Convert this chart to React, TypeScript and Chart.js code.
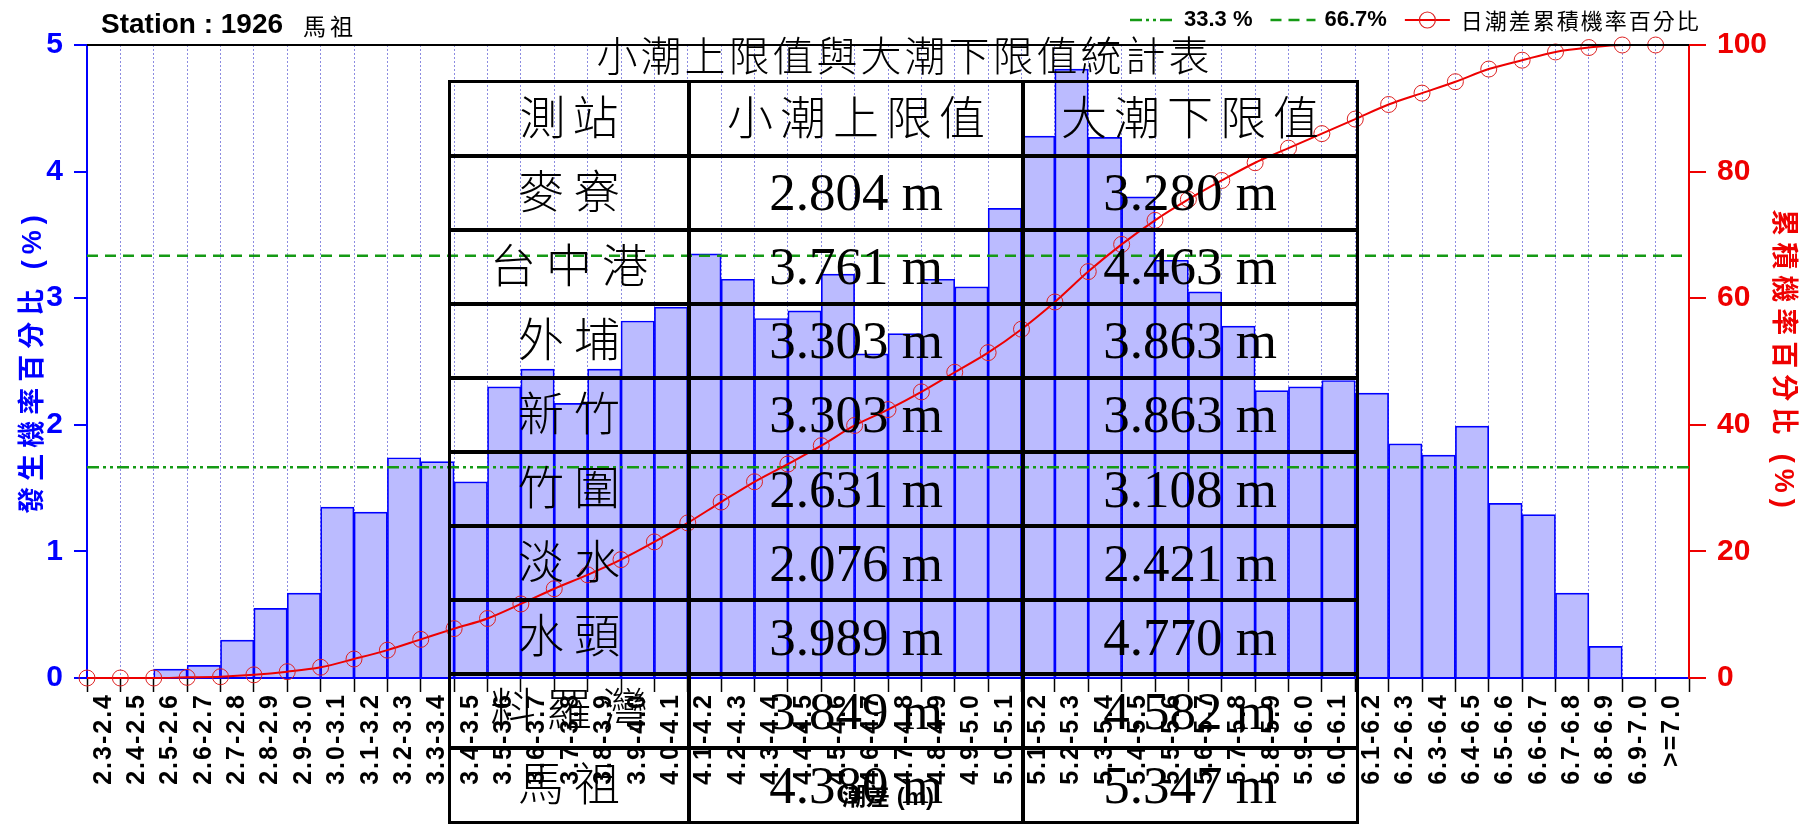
import React, { useEffect, useRef } from "react";
import { Chart, registerables } from "chart.js";

Chart.register(...registerables);

// ---------- data ----------
const tideRanges = [
  "2.3-2.4", "2.4-2.5", "2.5-2.6", "2.6-2.7", "2.7-2.8", "2.8-2.9", "2.9-3.0", "3.0-3.1",
  "3.1-3.2", "3.2-3.3", "3.3-3.4", "3.4-3.5", "3.5-3.6", "3.6-3.7", "3.7-3.8", "3.8-3.9",
  "3.9-4.0", "4.0-4.1", "4.1-4.2", "4.2-4.3", "4.3-4.4", "4.4-4.5", "4.5-4.6", "4.6-4.7",
  "4.7-4.8", "4.8-4.9", "4.9-5.0", "5.0-5.1", "5.1-5.2", "5.2-5.3", "5.3-5.4", "5.4-5.5",
  "5.5-5.6", "5.6-5.7", "5.7-5.8", "5.8-5.9", "5.9-6.0", "6.0-6.1", "6.1-6.2", "6.2-6.3",
  "6.3-6.4", "6.4-6.5", "6.5-6.6", "6.6-6.7", "6.7-6.8", "6.8-6.9", "6.9-7.0", ">=7.0",
];

const occurrencePct = [
  0, 0, 0.07, 0.1, 0.3, 0.55, 0.67, 1.35,
  1.31, 1.74, 1.71, 1.55, 2.3, 2.44, 2.17, 2.44,
  2.82, 2.93, 3.35, 3.15, 2.84, 2.9, 3.19, 2.56,
  2.72, 3.15, 3.09, 3.71, 4.28, 4.81, 4.27, 3.8,
  3.3, 3.05, 2.78, 2.27, 2.3, 2.35, 2.25, 1.85,
  1.76, 1.99, 1.38, 1.29, 0.67, 0.25, 0, 0,
];

// cumulative percentage, read at the lower edge of each range
const cumulativePct = [
  0, 0, 0, 0.1, 0.2, 0.5, 1.0, 1.7,
  3.0, 4.4, 6.1, 7.8, 9.4, 11.7, 14.1, 16.3,
  18.7, 21.5, 24.5, 27.8, 31.0, 33.8, 36.7, 39.9,
  42.4, 45.2, 48.3, 51.4, 55.1, 59.4, 64.2, 68.5,
  72.3, 75.6, 78.6, 81.4, 83.7, 86.0, 88.3, 90.6,
  92.4, 94.2, 96.2, 97.6, 98.9, 99.6, 100, 100,
];

const tertileLow = 33.3;
const tertileHigh = 66.7;

const legendLow = "33.3 %";
const legendHigh = "66.7%";
const legendCum = "日潮差累積機率百分比";

const stationLabel = "Station : 1926";
const stationName = "馬祖";

const leftAxisTitle = "發生機率百分比 (%)";
const rightAxisTitle = "累積機率百分比 (%)";
const xAxisTitle = "潮差 (m)";

const tableTitle = "小潮上限值與大潮下限值統計表";
const tableHeader = ["測站", "小潮上限值", "大潮下限值"];
const stations = ["麥寮", "台中港", "外埔", "新竹", "竹圍", "淡水", "水頭", "料羅灣", "馬祖"];
const neapUpper = [2.804, 3.761, 3.303, 3.303, 2.631, 2.076, 3.989, 3.849, 4.38];
const springLower = [3.28, 4.463, 3.863, 3.863, 3.108, 2.421, 4.77, 4.582, 5.347];

// ---------- styles ----------
const SANS = "'Liberation Sans', Arial, 'Noto Sans CJK TC', sans-serif";
const CJK = "'Noto Sans CJK TC', 'Liberation Sans', sans-serif";
const SERIF = "'Liberation Serif', 'Noto Sans CJK TC', serif";
const GREEN = "#159a15";
const RED = "#ee0000";
const BLUE = "#0000ff";
const DASH_DOT_DOT = [12, 4, 3, 4, 3, 4];
const DASH = [11, 7];

// add letter spacing to a scale's title / labels (canvas letterSpacing)
function spaced(scale: any, titleSpacing: number, labelSpacing: number) {
  if (scale.__spaced) return;
  scale.__spaced = true;
  const wrap = (name: string, px: number) => {
    const orig = scale[name].bind(scale);
    scale[name] = (...args: any[]) => {
      const ctx = scale.ctx as any;
      const prev = ctx.letterSpacing;
      ctx.letterSpacing = `${px}px`;
      orig(...args);
      ctx.letterSpacing = prev || "0px";
    };
  };
  if (titleSpacing) wrap("drawTitle", titleSpacing);
  if (labelSpacing) wrap("drawLabels", labelSpacing);
}

const overlayPlugin = {
  id: "overlayTexts",
  afterDraw(chart: any) {
    const { ctx, chartArea } = chart;
    ctx.save();
    // black frame line on top of the plot
    ctx.strokeStyle = "#000";
    ctx.lineWidth = 2;
    ctx.beginPath();
    ctx.moveTo(chartArea.left, chartArea.top);
    ctx.lineTo(chartArea.right, chartArea.top);
    ctx.stroke();

    // station label
    ctx.fillStyle = "#000";
    ctx.textBaseline = "middle";
    ctx.textAlign = "left";
    ctx.font = `bold 28px ${SANS}`;
    ctx.fillText(stationLabel, 101, 25);
    const sw = ctx.measureText(stationLabel).width;
    ctx.font = `23px ${CJK}`;
    (ctx as any).letterSpacing = "4px";
    ctx.fillText(stationName, 101 + sw + 20, 26);
    (ctx as any).letterSpacing = "0px";

    // legend
    const ly = 20;
    let x = 1130;
    const sample = (dash: number[], color: string, w: number) => {
      ctx.save();
      ctx.strokeStyle = color;
      ctx.lineWidth = w;
      ctx.setLineDash(dash);
      ctx.beginPath();
      ctx.moveTo(x, ly);
      ctx.lineTo(x + 45, ly);
      ctx.stroke();
      ctx.restore();
    };
    sample(DASH_DOT_DOT, GREEN, 2.5);
    x += 54;
    ctx.font = `bold 22px ${SANS}`;
    ctx.fillStyle = "#000";
    ctx.fillText(legendLow, x, ly);
    x += ctx.measureText(legendLow).width + 18;
    sample(DASH, GREEN, 2.5);
    x += 54;
    ctx.fillText(legendHigh, x, ly);
    x += ctx.measureText(legendHigh).width + 18;
    sample([], RED, 2);
    ctx.strokeStyle = "#dd2222";
    ctx.lineWidth = 1.2;
    ctx.beginPath();
    ctx.arc(x + 22.5, ly, 8, 0, Math.PI * 2);
    ctx.stroke();
    x += 56;
    ctx.font = `22px ${CJK}`;
    (ctx as any).letterSpacing = "2px";
    ctx.fillText(legendCum, x, ly + 1);
    (ctx as any).letterSpacing = "0px";
    ctx.restore();
  },
};

// table geometry
const colX = [449, 689, 1023, 1357];
const tableTop = 81.5;
const rowH = 74.1;

export default function App() {
  const canvasRef = useRef<HTMLCanvasElement>(null);

  useEffect(() => {
    const canvas = canvasRef.current;
    if (!canvas) return;
    const chart = new Chart(canvas, {
      type: "bar",
      data: {
        labels: tideRanges,
        datasets: [
          {
            type: "line",
            label: legendCum,
            data: cumulativePct.map((v, i) => ({ x: i, y: v })),
            xAxisID: "xl",
            yAxisID: "y1",
            borderColor: RED,
            borderWidth: 2,
            pointRadius: 8,
            pointBorderWidth: 1,
            pointBorderColor: "#dd2222",
            pointBackgroundColor: "rgba(0,0,0,0)",
            cubicInterpolationMode: "monotone",
            fill: false,
            clip: false,
            order: 0,
          } as any,
          {
            type: "line",
            label: legendLow,
            data: [
              { x: 0, y: tertileLow },
              { x: tideRanges.length, y: tertileLow },
            ],
            xAxisID: "xl",
            yAxisID: "y1",
            borderColor: GREEN,
            borderWidth: 2.5,
            borderDash: DASH_DOT_DOT,
            pointRadius: 0,
            fill: false,
            order: 1,
          } as any,
          {
            type: "line",
            label: legendHigh,
            data: [
              { x: 0, y: tertileHigh },
              { x: tideRanges.length, y: tertileHigh },
            ],
            xAxisID: "xl",
            yAxisID: "y1",
            borderColor: GREEN,
            borderWidth: 2.5,
            borderDash: DASH,
            pointRadius: 0,
            fill: false,
            order: 1,
          } as any,
          {
            type: "bar",
            label: "發生機率",
            data: occurrencePct,
            xAxisID: "x",
            yAxisID: "y",
            backgroundColor: "#bbbbff",
            borderColor: BLUE,
            borderWidth: 1.7,
            barPercentage: 1,
            categoryPercentage: 1,
            grouped: false,
            order: 2,
          } as any,
        ],
      },
      options: {
        responsive: false,
        animation: false,
        maintainAspectRatio: false,
        layout: { padding: { top: 45, left: 0, right: 0, bottom: 0 } },
        plugins: {
          legend: { display: false },
          tooltip: { enabled: false },
          title: { display: false },
        },
        scales: {
          x: {
            type: "category",
            position: "bottom",
            offset: true,
            grid: {
              display: true,
              offset: true,
              drawOnChartArea: true,
              drawTicks: true,
              color: "rgba(120,120,220,0.85)",
              lineWidth: 1,
              tickColor: "#000",
              tickWidth: 1.5,
              tickLength: 14,
            },
            border: { display: true, color: BLUE, width: 2, dash: [2, 2] },
            ticks: {
              autoSkip: false,
              minRotation: 90,
              maxRotation: 90,
              color: "#000",
              padding: 1,
              font: { family: SANS, size: 25, weight: "bold" },
            },
            title: {
              display: true,
              text: xAxisTitle,
              color: "#000",
              font: { family: SANS, size: 24, weight: "bold" },
              padding: { top: 0, bottom: 12 },
            },
            afterFit: (s: any) => {
              s.height = 147;
              spaced(s, 0, 2);
            },
          },
          xl: {
            type: "linear",
            display: false,
            offset: false,
            min: 0,
            max: tideRanges.length,
          },
          y: {
            type: "linear",
            position: "left",
            min: 0,
            max: 5,
            ticks: {
              stepSize: 1,
              color: BLUE,
              padding: 11,
              font: { family: SANS, size: 30, weight: "bold" },
            },
            grid: {
              drawOnChartArea: false,
              drawTicks: true,
              tickLength: 13,
              tickColor: BLUE,
              tickWidth: 2,
              lineWidth: 2,
              color: BLUE,
            },
            border: { display: true, color: BLUE, width: 2 },
            title: {
              display: true,
              text: leftAxisTitle,
              color: BLUE,
              font: { family: SANS, size: 27, weight: "bold" },
              padding: { top: 17, bottom: 0 },
            },
            afterFit: (s: any) => {
              s.width = 87;
              spaced(s, 6, 0);
            },
          },
          y1: {
            type: "linear",
            position: "right",
            min: 0,
            max: 100,
            ticks: {
              stepSize: 20,
              color: RED,
              padding: 11,
              font: { family: SANS, size: 30, weight: "bold" },
            },
            grid: {
              drawOnChartArea: false,
              drawTicks: true,
              tickLength: 17,
              tickColor: RED,
              tickWidth: 2,
              lineWidth: 2,
              color: RED,
            },
            border: { display: true, color: RED, width: 2 },
            title: {
              display: true,
              text: rightAxisTitle,
              color: RED,
              font: { family: SANS, size: 27, weight: "bold" },
              padding: { top: 8, bottom: 0 },
            },
            afterFit: (s: any) => {
              s.width = 118;
              spaced(s, 6, 0);
            },
          },
        },
      } as any,
      plugins: [overlayPlugin],
    });
    return () => chart.destroy();
  }, []);

  const rows: string[][] = [
    tableHeader,
    ...stations.map((s, i) => [s, `${neapUpper[i].toFixed(3)} m`, `${springLower[i].toFixed(3)} m`]),
  ];
  const nRows = rows.length;
  const tableBottom = tableTop + nRows * rowH;

  const lines: React.ReactNode[] = [];
  for (let r = 0; r <= nRows; r++) {
    const outer = r === 0 || r === nRows;
    const w = outer ? 3 : 4;
    lines.push(
      <div
        key={`h${r}`}
        style={{
          position: "absolute",
          left: colX[0] - 1.5,
          width: colX[3] - colX[0] + 3,
          top: tableTop + r * rowH - w / 2,
          height: w,
          background: "#000",
        }}
      />
    );
  }
  colX.forEach((x, c) => {
    const outer = c === 0 || c === colX.length - 1;
    const w = outer ? 3 : 4;
    lines.push(
      <div
        key={`v${c}`}
        style={{
          position: "absolute",
          left: x - w / 2,
          width: w,
          top: tableTop - 1.5,
          height: tableBottom - tableTop + 3,
          background: "#000",
        }}
      />
    );
  });

  const cells: React.ReactNode[] = [];
  rows.forEach((row, r) => {
    row.forEach((text, c) => {
      const isCjk = r === 0 || c === 0;
      const spacing = r === 0 ? 7 : c === 0 ? 10 : 0;
      cells.push(
        <div
          key={`c${r}-${c}`}
          style={{
            position: "absolute",
            left: colX[c],
            width: colX[c + 1] - colX[c],
            top: tableTop + r * rowH,
            height: rowH,
            display: "flex",
            alignItems: "center",
            justifyContent: "center",
            fontFamily: SERIF,
            fontSize: isCjk ? 46 : 53,
            fontWeight: isCjk ? 300 : 400,
            letterSpacing: spacing,
            paddingLeft: spacing,
            boxSizing: "border-box",
            lineHeight: 1,
            color: "#000",
            whiteSpace: "nowrap",
          }}
        >
          {text}
        </div>
      );
    });
  });

  return (
    <div
      style={{
        position: "absolute",
        left: 0,
        top: 0,
        width: 1807,
        height: 825,
        overflow: "hidden",
        background: "#fff",
      }}
    >
      <canvas ref={canvasRef} width={1807} height={825} style={{ display: "block" }} />
      <div style={{ position: "absolute", left: 0, top: 0, width: 1807, height: 825, pointerEvents: "none" }}>
        <div
          style={{
            position: "absolute",
            left: colX[0],
            width: colX[3] - colX[0],
            top: 34,
            height: 46,
            display: "flex",
            alignItems: "center",
            justifyContent: "center",
            fontFamily: SERIF,
            fontSize: 41,
            fontWeight: 300,
            letterSpacing: 3,
            paddingLeft: 3,
            boxSizing: "border-box",
            lineHeight: 1,
            color: "#000",
            whiteSpace: "nowrap",
          }}
        >
          {tableTitle}
        </div>
        {lines}
        {cells}
      </div>
    </div>
  );
}
